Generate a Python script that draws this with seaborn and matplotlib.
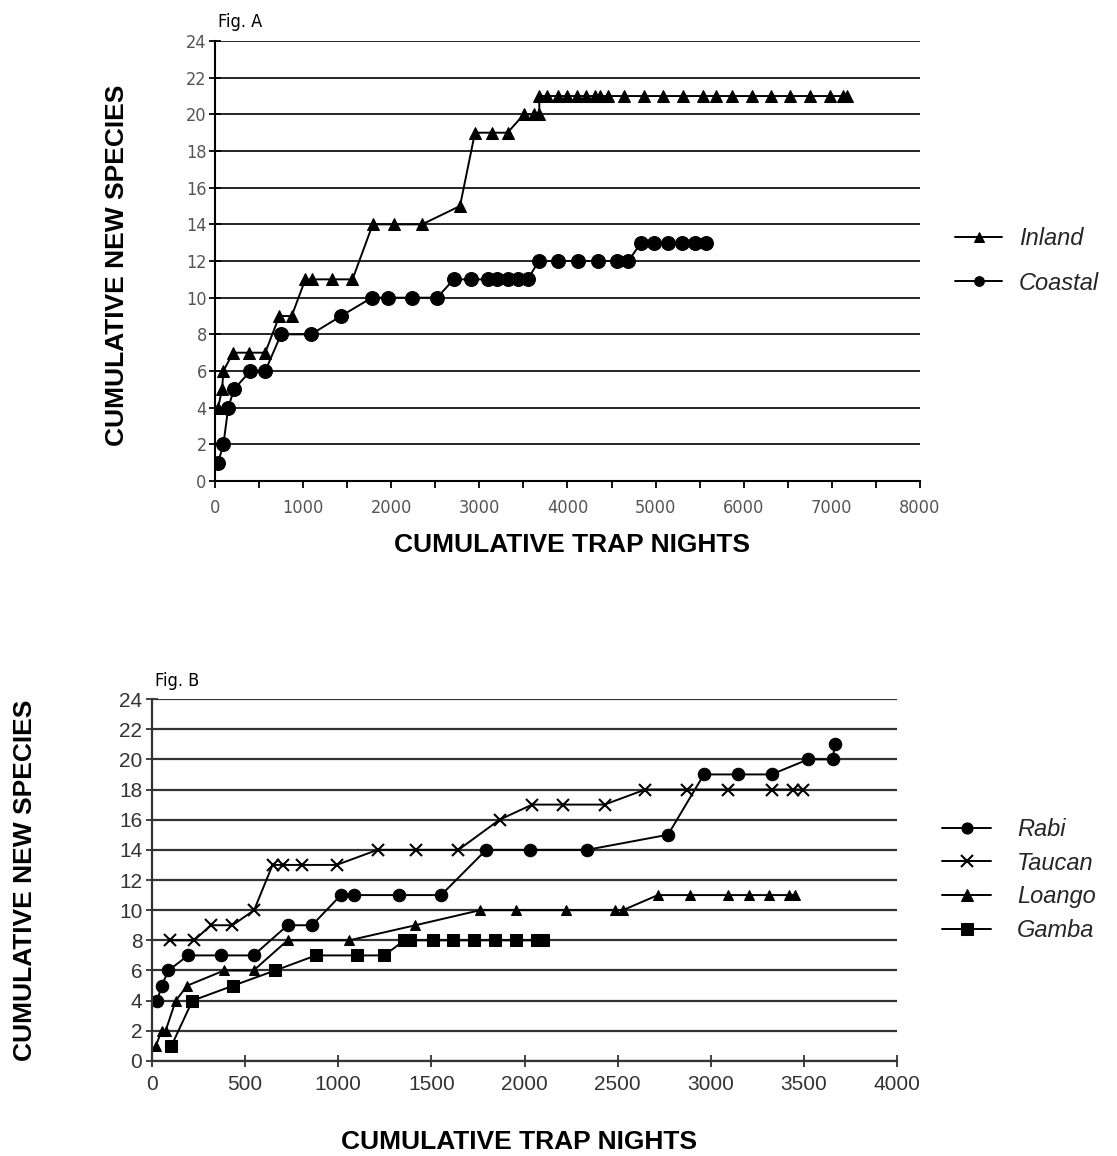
import matplotlib
matplotlib.use('Agg')
import matplotlib.pyplot as plt
from matplotlib.ticker import MultipleLocator
import seaborn as sns

# Fig. A - inland vs coastal
inland_x = [35, 80, 95, 205, 385, 570, 730, 870, 1025, 1100, 1330, 1560, 1790, 2030, 2350,
            2780, 2950, 3140, 3320, 3505, 3615, 3680, 3680, 3766, 3887, 4000, 4106, 4211,
            4313, 4370, 4464, 4643, 4870, 5089, 5316, 5543, 5684, 5865, 6092, 6308, 6527,
            6747, 6974, 7125, 7170]
inland_y = [4, 5, 6, 7, 7, 7, 9, 9, 11, 11, 11, 11, 14, 14, 14,
            15, 19, 19, 19, 20, 20, 20, 21, 21, 21, 21, 21, 21,
            21, 21, 21, 21, 21, 21, 21, 21, 21, 21, 21, 21, 21,
            21, 21, 21, 21]
coastal_x = [35, 95, 150, 215, 400, 570, 750, 1090, 1430, 1780, 1965, 2235, 2520, 2710,
             2905, 3100, 3205, 3320, 3435, 3548, 3675, 3897, 4124, 4344, 4560, 4691, 4835,
             4983, 5145, 5297, 5448, 5573]
coastal_y = [1, 2, 4, 5, 6, 6, 8, 8, 9, 10, 10, 10, 10, 11,
             11, 11, 11, 11, 11, 11, 12, 12, 12, 12, 12, 12, 13,
             13, 13, 13, 13, 13]

# Fig. B - four sites
rabi_x = [28, 52, 88, 194, 369, 545, 728, 859, 1014, 1086, 1324, 1552, 1794, 2027, 2335,
          2770, 2963, 3144, 3326, 3523, 3655, 3665]
rabi_y = [4, 5, 6, 7, 7, 7, 9, 9, 11, 11, 11, 11, 14, 14, 14,
          15, 19, 19, 19, 20, 20, 21]
taucan_x = [95, 226, 316, 432, 548, 647, 704, 805, 991, 1211, 1417, 1645, 1866, 2041, 2206,
            2430, 2648, 2874, 3095, 3326, 3443, 3497]
taucan_y = [8, 8, 9, 9, 10, 13, 13, 13, 13, 14, 14, 14, 16, 17, 17,
            17, 18, 18, 18, 18, 18, 18]
loango_x = [20, 52, 73, 127, 190, 387, 545, 728, 1059, 1414, 1762, 1955, 2220, 2483, 2528,
            2716, 2887, 3093, 3206, 3313, 3421, 3451]
loango_y = [1, 2, 2, 4, 5, 6, 6, 8, 8, 9, 10, 10, 10, 10, 10,
            11, 11, 11, 11, 11, 11, 11]
gamba_x = [104, 217, 437, 661, 880, 1100, 1247, 1355, 1385, 1507, 1615, 1731, 1839, 1952,
           2065, 2097]
gamba_y = [1, 4, 5, 6, 7, 7, 7, 8, 8, 8, 8, 8, 8, 8, 8, 8]

sns.set_theme(style='white')
plt.rcParams['font.family'] = ['Liberation Sans', 'DejaVu Sans']

fig = plt.figure(figsize=(11.17, 11.56), dpi=100)
axA = fig.add_axes([0.1925, 0.5839, 0.6311, 0.3806])
axB = fig.add_axes([0.1361, 0.0822, 0.6670, 0.3131])

line_kw = dict(color='black', linewidth=1.4, markeredgecolor='black',
               estimator=None, sort=False)

# ---- Fig A ----
sns.lineplot(x=inland_x, y=inland_y, marker='^', markersize=9, label='Inland', ax=axA, **line_kw)
sns.lineplot(x=coastal_x, y=coastal_y, marker='o', markersize=10, label='Coastal', ax=axA, **line_kw)

axA.set_xlim(0, 8000)
axA.set_ylim(0, 24)
axA.xaxis.set_major_locator(MultipleLocator(1000))
axA.xaxis.set_minor_locator(MultipleLocator(500))
axA.yaxis.set_major_locator(MultipleLocator(2))
axA.yaxis.grid(True, color='black', linewidth=1.2)
axA.set_axisbelow(True)
for s in ['top', 'right']:
    axA.spines[s].set_visible(False)
for s in ['left', 'bottom']:
    axA.spines[s].set_color('black')
    axA.spines[s].set_linewidth(1.5)
axA.tick_params(axis='x', which='both', direction='out', length=5, width=1.3,
                color='black', labelsize=13, labelcolor='#555555', pad=8, bottom=True)
axA.tick_params(axis='y', direction='inout', length=8, width=1.3, color='black',
                labelsize=13, labelcolor='#555555', pad=2, left=True)
# narrow-looking tick labels, as in the scan
for lab in axA.get_xticklabels() + axA.get_yticklabels():
    lab.set_family('DejaVu Sans')
    lab.set_stretch('condensed')
axA.set_xlabel('')
axA.set_ylabel('')

legA = axA.legend(loc='center left', bbox_to_anchor=(1.05, 0.5), frameon=False,
                  prop={'style': 'italic', 'size': 17}, handlelength=2.0,
                  handletextpad=0.7, labelspacing=0.9, borderpad=0, borderaxespad=0)
for h in legA.legend_handles:
    h.set_markersize(7)

# ---- Fig B ----
sns.lineplot(x=rabi_x, y=rabi_y, marker='o', markersize=9, label='Rabi', ax=axB, **line_kw)
sns.lineplot(x=taucan_x, y=taucan_y, marker='x', markersize=8, markeredgewidth=1.5,
             label='Taucan', ax=axB, **line_kw)
sns.lineplot(x=loango_x, y=loango_y, marker='^', markersize=7, label='Loango', ax=axB, **line_kw)
sns.lineplot(x=gamba_x, y=gamba_y, marker='s', markersize=8, label='Gamba', ax=axB, **line_kw)

axB.set_xlim(0, 4000)
axB.set_ylim(0, 24)
axB.xaxis.set_major_locator(MultipleLocator(500))
axB.yaxis.set_major_locator(MultipleLocator(2))
axB.yaxis.grid(True, color='#333333', linewidth=1.6)
axB.set_axisbelow(True)
for s in ['top', 'right']:
    axB.spines[s].set_visible(False)
for s in ['left', 'bottom']:
    axB.spines[s].set_color('#333333')
    axB.spines[s].set_linewidth(1.6)
axB.tick_params(axis='x', direction='inout', length=8, width=1.3, color='#333333',
                labelsize=15, labelcolor='#333333', pad=6, bottom=True)
axB.tick_params(axis='y', direction='inout', length=8, width=1.3, color='#333333',
                labelsize=15, labelcolor='#333333', pad=3, left=True)
axB.set_xlabel('')
axB.set_ylabel('')

legB = axB.legend(loc='center left', bbox_to_anchor=(1.06, 0.5), frameon=False,
                  prop={'style': 'italic', 'size': 17}, handlelength=2.1,
                  handletextpad=1.1, labelspacing=0.45, borderpad=0, borderaxespad=0)
for h in legB.legend_handles:
    h.set_markersize(8)

# ---- labels ----
lab_kw = dict(fontsize=19, fontweight='bold', color='black', ha='center', va='center')
fig.text(0.1047, 0.7708, 'CUMULATIVE NEW SPECIES', rotation=90, **lab_kw)
fig.text(0.512, 0.5285, 'CUMULATIVE TRAP NIGHTS', **lab_kw)
fig.text(0.0224, 0.2388, 'CUMULATIVE NEW SPECIES', rotation=90, **lab_kw)
fig.text(0.4646, 0.0121, 'CUMULATIVE TRAP NIGHTS', **lab_kw)
fig.text(0.195, 0.981, 'Fig. A', fontsize=13, family='DejaVu Sans', stretch='condensed',
         color='black', va='center')
fig.text(0.1388, 0.4109, 'Fig. B', fontsize=13, family='DejaVu Sans', stretch='condensed',
         color='black', va='center')

fig.savefig('out.png', dpi=100, facecolor='white')
